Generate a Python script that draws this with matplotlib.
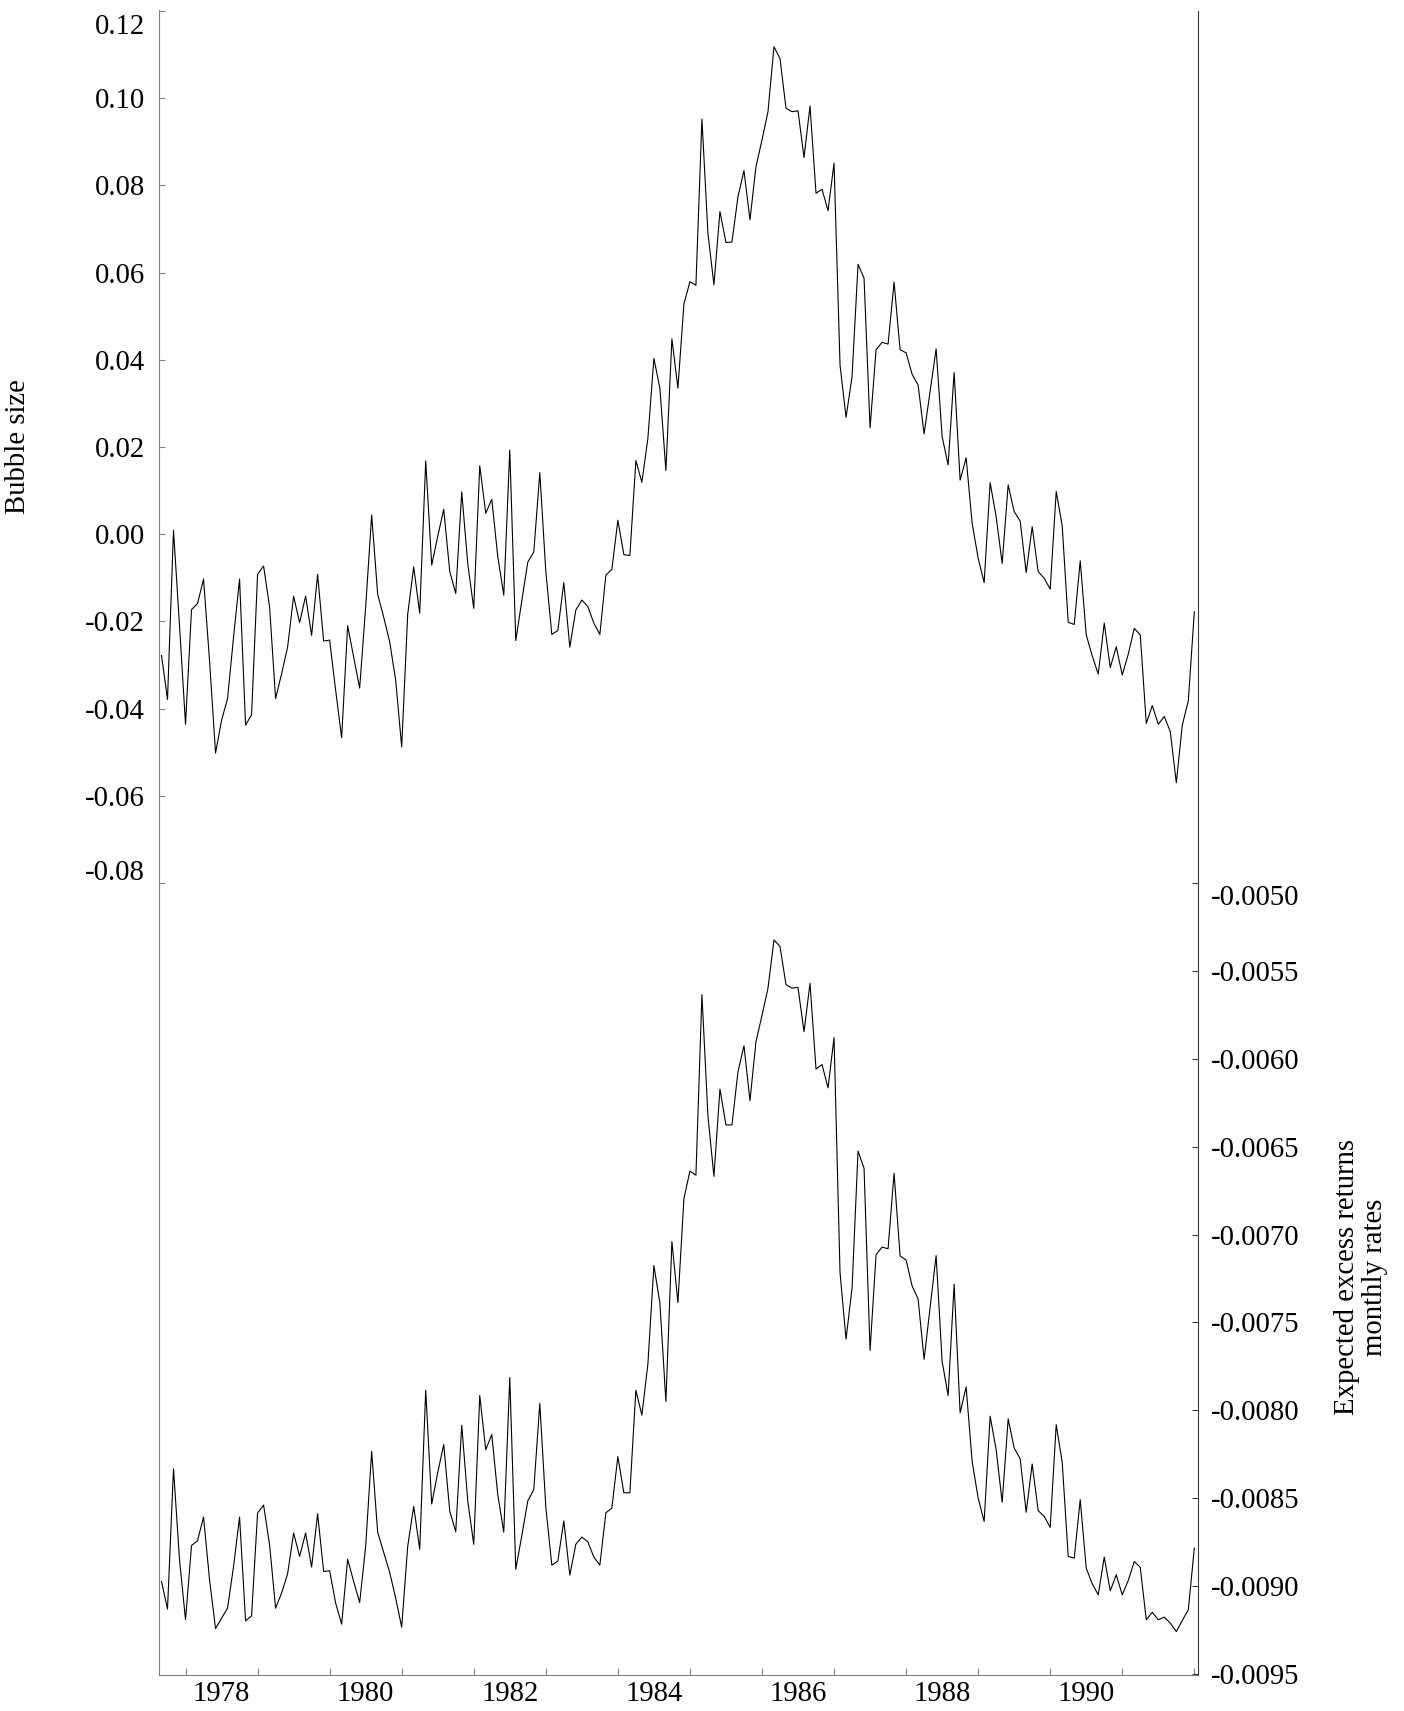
import numpy as np
import matplotlib
matplotlib.use("Agg")
import matplotlib.pyplot as plt
from matplotlib.ticker import FixedLocator, FixedFormatter
from matplotlib.transforms import ScaledTranslation

plt.rcParams['font.family'] = ['Liberation Serif', 'DejaVu Serif']

# ---- data (monthly, starting Sep 1977) ----
start_year = 1977
start_month = 9

bubble_size = [
    -0.0278, -0.0379, 0.0009, -0.0210, -0.0436, -0.0173, -0.0159, -0.0103, -0.0290, -0.0502,
    -0.0427, -0.0377, -0.0236, -0.0103, -0.0438, -0.0414, -0.0092, -0.0073, -0.0167, -0.0377,
    -0.0320, -0.0259, -0.0142, -0.0203, -0.0142, -0.0232, -0.0092, -0.0245, -0.0243, -0.0358,
    -0.0467, -0.0210, -0.0282, -0.0353, -0.0167, 0.0044, -0.0138, -0.0190, -0.0247, -0.0335,
    -0.0488, -0.0184, -0.0075, -0.0181, 0.0168, -0.0071, -0.0005, 0.0057, -0.0085, -0.0136,
    0.0097, -0.0068, -0.0170, 0.0157, 0.0048, 0.0080, -0.0051, -0.0140, 0.0193, -0.0244,
    -0.0153, -0.0064, -0.0041, 0.0141, -0.0085, -0.0230, -0.0221, -0.0111, -0.0259, -0.0174,
    -0.0151, -0.0166, -0.0204, -0.0230, -0.0094, -0.0081, 0.0032, -0.0047, -0.0049, 0.0169,
    0.0119, 0.0220, 0.0403, 0.0335, 0.0146, 0.0448, 0.0335, 0.0528, 0.0579, 0.0571,
    0.0952, 0.0690, 0.0572, 0.0740, 0.0669, 0.0670, 0.0774, 0.0834, 0.0721, 0.0843,
    0.0904, 0.0969, 0.1118, 0.1091, 0.0977, 0.0969, 0.0971, 0.0864, 0.0982, 0.0782,
    0.0791, 0.0742, 0.0851, 0.0388, 0.0268, 0.0361, 0.0619, 0.0587, 0.0244, 0.0423,
    0.0440, 0.0436, 0.0578, 0.0423, 0.0416, 0.0367, 0.0342, 0.0230, 0.0327, 0.0425,
    0.0224, 0.0159, 0.0371, 0.0124, 0.0175, 0.0025, -0.0055, -0.0111, 0.0118, 0.0040,
    -0.0067, 0.0113, 0.0052, 0.0030, -0.0088, 0.0017, -0.0086, -0.0101, -0.0126, 0.0098,
    0.0019, -0.0202, -0.0207, -0.0061, -0.0231, -0.0279, -0.0321, -0.0204, -0.0306, -0.0258,
    -0.0323, -0.0275, -0.0216, -0.0231, -0.0434, -0.0393, -0.0436, -0.0418, -0.0453, -0.0570,
    -0.0438, -0.0382, -0.0178,
]

expected_returns = [
    -0.008976, -0.009133, -0.008335, -0.008852, -0.009194, -0.008771, -0.008744, -0.008609, -0.008966, -0.009244,
    -0.009185, -0.009128, -0.008890, -0.008609, -0.009200, -0.009172, -0.008586, -0.008541, -0.008767, -0.009128,
    -0.009042, -0.008932, -0.008700, -0.008833, -0.008700, -0.008894, -0.008590, -0.008919, -0.008915, -0.009099,
    -0.009219, -0.008849, -0.008976, -0.009096, -0.008776, -0.008235, -0.008696, -0.008810, -0.008924, -0.009071,
    -0.009236, -0.008776, -0.008548, -0.008792, -0.007887, -0.008535, -0.008356, -0.008196, -0.008574, -0.008693,
    -0.008086, -0.008517, -0.008764, -0.007917, -0.008226, -0.008139, -0.008482, -0.008695, -0.007814, -0.008906,
    -0.008716, -0.008517, -0.008452, -0.007962, -0.008551, -0.008883, -0.008860, -0.008631, -0.008940, -0.008764,
    -0.008723, -0.008750, -0.008837, -0.008883, -0.008585, -0.008558, -0.008265, -0.008471, -0.008471, -0.007887,
    -0.008029, -0.007738, -0.007177, -0.007390, -0.007951, -0.007040, -0.007388, -0.006795, -0.006639, -0.006662,
    -0.005634, -0.006325, -0.006669, -0.006172, -0.006376, -0.006376, -0.006074, -0.005925, -0.006238, -0.005902,
    -0.005753, -0.005597, -0.005323, -0.005359, -0.005577, -0.005597, -0.005593, -0.005845, -0.005570, -0.006058,
    -0.006032, -0.006165, -0.005879, -0.007218, -0.007596, -0.007305, -0.006525, -0.006623, -0.007660, -0.007115,
    -0.007072, -0.007081, -0.006651, -0.007122, -0.007145, -0.007292, -0.007367, -0.007711, -0.007413, -0.007120,
    -0.007722, -0.007917, -0.007283, -0.008015, -0.007868, -0.008292, -0.008501, -0.008634, -0.008035, -0.008225,
    -0.008525, -0.008050, -0.008216, -0.008277, -0.008582, -0.008307, -0.008573, -0.008605, -0.008668, -0.008083,
    -0.008297, -0.008833, -0.008843, -0.008510, -0.008900, -0.008989, -0.009052, -0.008837, -0.009029, -0.008938,
    -0.009052, -0.008970, -0.008862, -0.008896, -0.009194, -0.009151, -0.009194, -0.009179, -0.009213, -0.009261,
    -0.009198, -0.009137, -0.008786,
]

year_ticks = list(range(1978, 1993))
year_labels = ['1978', '1980', '1982', '1984', '1986', '1988', '1990']
left_ticks = [-0.08, -0.06, -0.04, -0.02, 0.00, 0.02, 0.04, 0.06, 0.08, 0.10, 0.12]
left_labels = ['-0.08', '-0.06', '-0.04', '-0.02', '0.00', '0.02', '0.04', '0.06', '0.08', '0.10', '0.12']
right_ticks = [-0.0095, -0.0090, -0.0085, -0.0080, -0.0075, -0.0070, -0.0065, -0.0060, -0.0055, -0.0050]
right_labels = ['-0.0095', '-0.0090', '-0.0085', '-0.0080', '-0.0075', '-0.0070',
                '-0.0065', '-0.0060', '-0.0055', '-0.0050']

n = len(bubble_size)
x = start_year + (start_month - 1) / 12 + np.arange(n) / 12.0

# ---- figure ----
W, H = 1404, 1711
fig = plt.figure(figsize=(W / 100, H / 100), dpi=100)
L, R, T, B = 158.5, 1197.7, 10.5, 1675.0
ax = fig.add_axes([L / W, 1 - B / H, (R - L) / W, (B - T) / H])
ax2 = ax.twinx()

FS = 20.7
spine_grey = '#808080'
spine_dark = '#3a3a3a'

ax.plot(x, bubble_size, color='black', lw=0.8)
ax2.plot(x, expected_returns, color='black', lw=0.8)

ax.set_xlim(1977.625, 1992.047)
ax.set_ylim(-0.26165, 0.12011)
ax2.set_ylim(-0.0095085, -0.0000296)

for a in (ax, ax2):
    a.spines['top'].set_visible(False)
    a.patch.set_visible(False)
ax.spines['left'].set_color(spine_grey)
ax.spines['bottom'].set_color(spine_grey)
ax.spines['right'].set_visible(False)
ax2.spines['left'].set_visible(False)
ax2.spines['bottom'].set_visible(False)
ax2.spines['right'].set_color(spine_dark)

# x axis: ticks at year starts, labels at mid-year
ax.xaxis.set_major_locator(FixedLocator(year_ticks))
ax.xaxis.set_major_formatter(FixedFormatter([''] * len(year_ticks)))
ax.xaxis.set_minor_locator(FixedLocator([int(y) + 0.5 for y in year_labels]))
ax.xaxis.set_minor_formatter(FixedFormatter(year_labels))
ax.tick_params(axis='x', which='major', direction='in', length=5, width=0.8, color=spine_grey)
ax.tick_params(axis='x', which='minor', length=0, pad=4.5, labelsize=FS)

ax.yaxis.set_major_locator(FixedLocator(left_ticks))
ax.yaxis.set_major_formatter(FixedFormatter(left_labels))
ax.tick_params(axis='y', direction='in', length=4, width=0.8, color=spine_grey, pad=9.7, labelsize=FS)

ax2.yaxis.set_major_locator(FixedLocator(right_ticks))
ax2.yaxis.set_major_formatter(FixedFormatter(right_labels))
ax2.tick_params(axis='y', direction='in', length=4, width=0.8, color=spine_dark, pad=9.7, labelsize=FS)

fig.text(18.5 / W, 1 - 447 / H, 'Bubble size', rotation=90, ha='center', va='center', fontsize=FS)
fig.text(1361 / W, 1 - 1277 / H, 'Expected excess returns\nmonthly rates', rotation=90,
         ha='center', va='center', multialignment='center', fontsize=FS, linespacing=1.05)

fig.canvas.draw()
# nudge the extreme labels inward as in the original
lt = ax.yaxis.get_major_ticks()
lt[-1].label1.set_transform(lt[-1].label1.get_transform() + ScaledTranslation(0, -13 / 100, fig.dpi_scale_trans))
lt[0].label1.set_transform(lt[0].label1.get_transform() + ScaledTranslation(0, 13 / 100, fig.dpi_scale_trans))
rt = ax2.yaxis.get_major_ticks()
rt[-1].label2.set_transform(rt[-1].label2.get_transform() + ScaledTranslation(0, -12 / 100, fig.dpi_scale_trans))

fig.savefig('out.png', dpi=100)
